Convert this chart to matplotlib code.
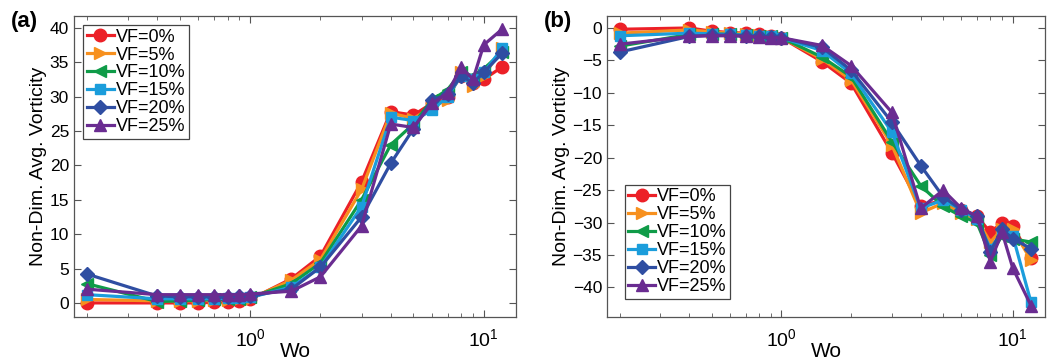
import numpy as np
import matplotlib
matplotlib.use('Agg')
import matplotlib.pyplot as plt

plt.rcParams['font.family'] = ['Liberation Sans', 'DejaVu Sans']

wo = [0.2, 0.4, 0.5, 0.6, 0.7, 0.8, 0.9, 1, 1.5, 2, 3, 4, 5, 6, 7, 8, 9, 10, 12]
labels = ['VF=0%', 'VF=5%', 'VF=10%', 'VF=15%', 'VF=20%', 'VF=25%']

# panel (a)
vf0_a = [0, 0, 0, 0, 0.1, 0.2, 0.3, 0.5, 3.5, 6.8, 17.6, 27.8, 27.3, 29, 30, 33, 32, 32.5, 34.3]
vf5_a = [0.5, 0.3, 0.3, 0.3, 0.4, 0.4, 0.5, 0.6, 3.3, 6.3, 16.5, 27.6, 26.8, 28.5, 29.5, 33.5, 31.5, 33, 37]
vf10_a = [2.8, 0.2, 0.3, 0.4, 0.5, 0.5, 0.6, 0.8, 2.8, 5.8, 15, 23, 26, 29.5, 31, 33.5, 33, 34, 36.5]
vf15_a = [1.2, 0.6, 0.6, 0.6, 0.6, 0.7, 0.7, 0.8, 2.3, 5.2, 14, 27, 26.5, 28, 30, 33, 32.5, 33.5, 37]
vf20_a = [4.2, 1.0, 0.9, 0.9, 0.9, 0.9, 1.0, 1.0, 2.0, 5.2, 12.5, 20.3, 25.3, 29.5, 30.3, 33, 32, 33.5, 36.3]
vf25_a = [2.0, 1.2, 1.2, 1.2, 1.2, 1.2, 1.2, 1.3, 1.7, 3.8, 11.2, 26, 25.5, 29, 30.5, 34.3, 32.5, 37.5, 39.8]

# panel (b)
vf0_b = [-0.2, 0, -0.5, -0.7, -0.8, -1.0, -1.2, -1.5, -5.2, -8.5, -19.2, -27.5, -26.5, -28, -29, -31.5, -30, -30.5, -35.5]
vf5_b = [-0.8, -0.3, -0.6, -0.8, -0.9, -1.1, -1.2, -1.5, -4.8, -8, -18, -28.5, -27, -28.5, -29.5, -33, -31, -31, -35.8]
vf10_b = [-2.8, -1.0, -0.9, -1.0, -1.1, -1.2, -1.3, -1.5, -4.5, -7.5, -17.5, -24.3, -27.5, -29, -30, -35, -32, -32.5, -33]
vf15_b = [-1.2, -0.8, -0.9, -1.0, -1.1, -1.2, -1.3, -1.5, -3.5, -7, -16, -27.8, -26.5, -28, -29.5, -34, -31.5, -32, -42.3]
vf20_b = [-3.7, -1.3, -1.1, -1.1, -1.2, -1.3, -1.4, -1.5, -3, -6.5, -14.5, -21.2, -26, -28, -29, -34.5, -31, -32.5, -34]
vf25_b = [-2.5, -1.3, -1.2, -1.2, -1.3, -1.4, -1.5, -1.5, -2.7, -5.8, -13, -27.8, -25, -27.8, -29, -36, -31.5, -37, -42.8]

colors = ['#ec2027', '#f7901e', '#0f9b48', '#1b9ddb', '#2f4ea2', '#6a2c91']
markers = ['o', '>', '<', 's', 'D', '^']
msizes = [9, 9, 9, 7, 7, 9]

fig = plt.figure(figsize=(10.61, 3.64), dpi=100)
axA = fig.add_axes([0.0697, 0.130, 0.417, 0.826])
axB = fig.add_axes([0.572, 0.130, 0.413, 0.827])

def draw(ax, series, ylim, yticks, legloc):
    for ys, lab, c, m, ms in zip(series, labels, colors, markers, msizes):
        ax.plot(wo, ys, color=c, marker=m, markersize=ms, linewidth=2.3, label=lab)
    ax.set_xscale('log')
    ax.set_xlim(0.176, 13.8)
    ax.set_ylim(*ylim)
    ax.set_yticks(yticks)
    ax.tick_params(which='both', direction='in', top=True, right=True, labelsize=12.5, color='#555555')
    ax.tick_params(which='major', length=5)
    ax.tick_params(which='minor', length=3)
    ax.tick_params(axis='x', which='major', pad=8, labelsize=14)
    for s in ax.spines.values():
        s.set_color('#555555')
        s.set_linewidth(0.9)
    ax.set_xlabel('Wo', fontsize=15, labelpad=-12)
    ax.xaxis.set_label_coords(0.5, -0.085)
    ax.set_ylabel('Non-Dim. Avg. Vorticity', fontsize=14, labelpad=2)
    leg = ax.legend(loc=legloc, fontsize=13, handlelength=1.5, handletextpad=0.1,
                    labelspacing=0.05, borderpad=0.2, borderaxespad=0.5,
                    fancybox=False, framealpha=1)
    leg.get_frame().set_edgecolor('#444444')
    leg.get_frame().set_linewidth(0.9)

draw(axA, [vf0_a, vf5_a, vf10_a, vf15_a, vf20_a, vf25_a], (-2, 41.7),
     np.arange(0, 41, 5), 'upper left')
draw(axB, [vf0_b, vf5_b, vf10_b, vf15_b, vf20_b, vf25_b], (-44.5, 1.9),
     np.arange(-40, 1, 5), 'lower left')
axB.legend_.set_bbox_to_anchor((0.02, 0.03, 1, 1))

fig.text(0.010, 0.97, '(a)', fontsize=16, fontweight='bold', va='top')
fig.text(0.513, 0.97, '(b)', fontsize=16, fontweight='bold', va='top')

plt.savefig('out.png', dpi=100)
